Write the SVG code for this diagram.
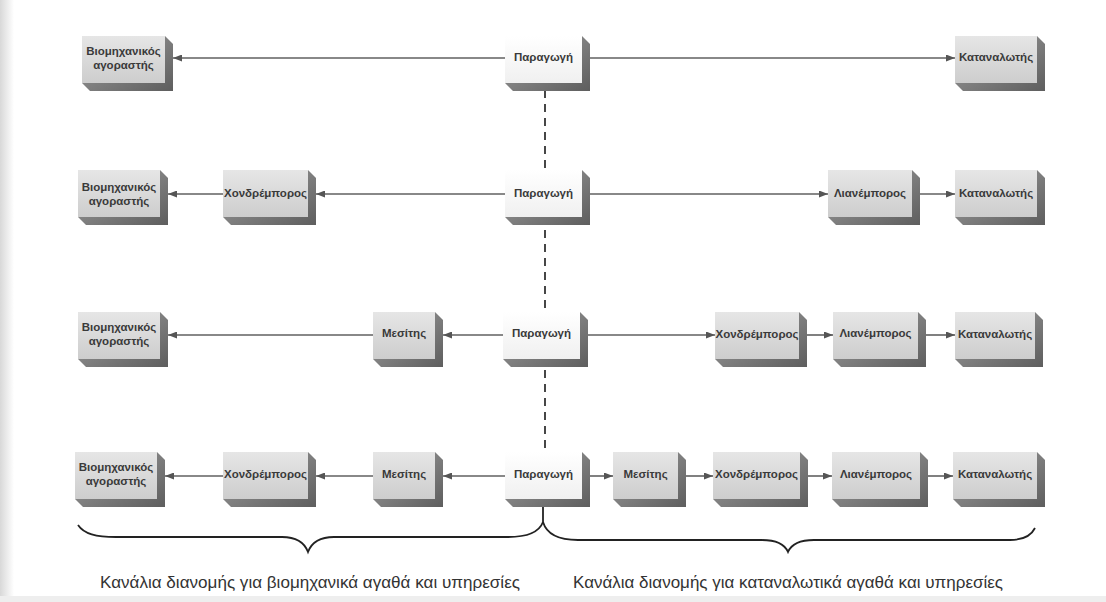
<svg xmlns="http://www.w3.org/2000/svg" width="1106" height="602" viewBox="0 0 1106 602">
<defs>
<linearGradient id="faceG" x1="0" y1="0" x2="0" y2="1">
<stop offset="0" stop-color="#e6e6e6"/>
<stop offset="1" stop-color="#cdcdcd"/>
</linearGradient>
<linearGradient id="faceW" x1="0" y1="0" x2="0" y2="1">
<stop offset="0" stop-color="#ffffff"/>
<stop offset="1" stop-color="#f0f0f0"/>
</linearGradient>
<linearGradient id="sideG" x1="0" y1="0" x2="1" y2="1">
<stop offset="0" stop-color="#a0a0a0"/>
<stop offset="1" stop-color="#5e5e5e"/>
</linearGradient>
<linearGradient id="edgeL" x1="0" y1="0" x2="1" y2="0">
<stop offset="0" stop-color="#d8d8d8"/>
<stop offset="1" stop-color="#ffffff"/>
</linearGradient>
<marker id="ah" markerWidth="9" markerHeight="7" refX="9" refY="3.5" orient="auto" markerUnits="userSpaceOnUse">
<path d="M0,0 L9,3.5 L0,7 z" fill="#555"/>
</marker>
<style>
.face{fill:url(#faceG);}
.faceP{fill:url(#faceW);}
.side{fill:url(#sideG);}
.lbl{font-family:"Liberation Sans",Arial,sans-serif;font-size:11.5px;font-weight:bold;fill:#3a3a3a;text-anchor:middle;dominant-baseline:central;}
.arr{stroke:#606060;stroke-width:1.6;fill:none;marker-end:url(#ah);}
.dash{stroke:#333;stroke-width:1.8;stroke-dasharray:8 6;fill:none;}
.brace{stroke:#222;stroke-width:1.8;fill:none;}
.cap{font-family:"Liberation Sans",Arial,sans-serif;font-size:16.5px;fill:#333;}
</style>
</defs>
<rect x="0" y="0" width="1106" height="602" fill="#ffffff"/>
<rect x="0" y="0" width="14" height="602" fill="url(#edgeL)"/>
<rect x="0" y="596" width="1106" height="6" fill="#eeeeee"/>

<line id="divider" class="dash" x1="545" y1="90" x2="545" y2="452"/>

<g id="connectors">
<!-- row 1 -->
<line class="arr" x1="505" y1="58" x2="173" y2="58"/>
<line class="arr" x1="590" y1="58" x2="955" y2="58"/>
<!-- row 2 -->
<line class="arr" x1="505" y1="194" x2="316" y2="194"/>
<line class="arr" x1="223" y1="194" x2="168" y2="194"/>
<line class="arr" x1="590" y1="194" x2="828" y2="194"/>
<line class="arr" x1="920" y1="194" x2="955" y2="194"/>
<!-- row 3 -->
<line class="arr" x1="503" y1="335" x2="443" y2="335"/>
<line class="arr" x1="373" y1="335" x2="168" y2="335"/>
<line class="arr" x1="588" y1="335" x2="715" y2="335"/>
<line class="arr" x1="807" y1="335" x2="833" y2="335"/>
<line class="arr" x1="926" y1="335" x2="955" y2="335"/>
<!-- row 4 -->
<line class="arr" x1="505" y1="476" x2="443" y2="476"/>
<line class="arr" x1="373" y1="476" x2="316" y2="476"/>
<line class="arr" x1="223" y1="476" x2="165" y2="476"/>
<line class="arr" x1="590" y1="476" x2="613" y2="476"/>
<line class="arr" x1="686" y1="476" x2="713" y2="476"/>
<line class="arr" x1="808" y1="476" x2="832" y2="476"/>
<line class="arr" x1="928" y1="476" x2="953" y2="476"/>
</g>

<!-- Row 1 -->
<g id="r1-viom"><polygon class="side" points="165,36 173,44 173,91 90,91 82,83 165,83"/><rect class="face" x="82" y="36" width="83" height="47"/><text class="lbl" x="123.5" y="51">Βιομηχανικός</text><text class="lbl" x="123.5" y="65">αγοραστής</text></g>
<g id="r1-para"><polygon class="side" points="582,36 590,44 590,91 513,91 505,83 582,83"/><rect class="faceP" x="505" y="36" width="77" height="47"/><text class="lbl" x="543.5" y="57">Παραγωγή</text></g>
<g id="r1-katan"><polygon class="side" points="1037,36 1045,44 1045,91 963,91 955,83 1037,83"/><rect class="face" x="955" y="36" width="82" height="47"/><text class="lbl" x="996" y="57">Καταναλωτής</text></g>

<!-- Row 2 -->
<g id="r2-viom"><polygon class="side" points="160,170 168,178 168,225 86,225 78,217 160,217"/><rect class="face" x="78" y="170" width="82" height="47"/><text class="lbl" x="119" y="187">Βιομηχανικός</text><text class="lbl" x="119" y="201">αγοραστής</text></g>
<g id="r2-xond"><polygon class="side" points="308,170 316,178 316,225 231,225 223,217 308,217"/><rect class="face" x="223" y="170" width="85" height="47"/><text class="lbl" x="265.5" y="193">Χονδρέμπορος</text></g>
<g id="r2-para"><polygon class="side" points="582,170 590,178 590,225 513,225 505,217 582,217"/><rect class="faceP" x="505" y="170" width="77" height="47"/><text class="lbl" x="543.5" y="193">Παραγωγή</text></g>
<g id="r2-lian"><polygon class="side" points="912,170 920,178 920,225 836,225 828,217 912,217"/><rect class="face" x="828" y="170" width="84" height="47"/><text class="lbl" x="870" y="193">Λιανέμπορος</text></g>
<g id="r2-katan"><polygon class="side" points="1037,170 1045,178 1045,225 963,225 955,217 1037,217"/><rect class="face" x="955" y="170" width="82" height="47"/><text class="lbl" x="996" y="193">Καταναλωτής</text></g>

<!-- Row 3 -->
<g id="r3-viom"><polygon class="side" points="160,312 168,320 168,367 86,367 78,359 160,359"/><rect class="face" x="78" y="312" width="82" height="47"/><text class="lbl" x="119" y="327">Βιομηχανικός</text><text class="lbl" x="119" y="341">αγοραστής</text></g>
<g id="r3-mes"><polygon class="side" points="435,312 443,320 443,367 381,367 373,359 435,359"/><rect class="face" x="373" y="312" width="62" height="47"/><text class="lbl" x="404" y="333">Μεσίτης</text></g>
<g id="r3-para"><polygon class="side" points="580,312 588,320 588,367 511,367 503,359 580,359"/><rect class="faceP" x="503" y="312" width="77" height="47"/><text class="lbl" x="541.5" y="333">Παραγωγή</text></g>
<g id="r3-xond"><polygon class="side" points="799,312 807,320 807,367 723,367 715,359 799,359"/><rect class="face" x="715" y="312" width="84" height="47"/><text class="lbl" x="757" y="334">Χονδρέμπορος</text></g>
<g id="r3-lian"><polygon class="side" points="918,312 926,320 926,367 841,367 833,359 918,359"/><rect class="face" x="833" y="312" width="85" height="47"/><text class="lbl" x="875.5" y="333">Λιανέμπορος</text></g>
<g id="r3-katan"><polygon class="side" points="1035,312 1043,320 1043,367 963,367 955,359 1035,359"/><rect class="face" x="955" y="312" width="80" height="47"/><text class="lbl" x="995" y="334">Καταναλωτής</text></g>

<!-- Row 4 -->
<g id="r4-viom"><polygon class="side" points="157,452 165,460 165,507 83,507 75,499 157,499"/><rect class="face" x="75" y="452" width="82" height="47"/><text class="lbl" x="116" y="467">Βιομηχανικός</text><text class="lbl" x="116" y="481">αγοραστής</text></g>
<g id="r4-xond"><polygon class="side" points="308,452 316,460 316,507 231,507 223,499 308,499"/><rect class="face" x="223" y="452" width="85" height="47"/><text class="lbl" x="265.5" y="474">Χονδρέμπορος</text></g>
<g id="r4-mes"><polygon class="side" points="435,452 443,460 443,507 381,507 373,499 435,499"/><rect class="face" x="373" y="452" width="62" height="47"/><text class="lbl" x="404" y="474">Μεσίτης</text></g>
<g id="r4-para"><polygon class="side" points="582,452 590,460 590,507 513,507 505,499 582,499"/><rect class="faceP" x="505" y="452" width="77" height="47"/><text class="lbl" x="543.5" y="474">Παραγωγή</text></g>
<g id="r4-mes2"><polygon class="side" points="678,452 686,460 686,507 621,507 613,499 678,499"/><rect class="face" x="613" y="452" width="65" height="47"/><text class="lbl" x="645.5" y="474">Μεσίτης</text></g>
<g id="r4-xond2"><polygon class="side" points="800,452 808,460 808,507 721,507 713,499 800,499"/><rect class="face" x="713" y="452" width="87" height="47"/><text class="lbl" x="756.5" y="474">Χονδρέμπορος</text></g>
<g id="r4-lian"><polygon class="side" points="920,452 928,460 928,507 840,507 832,499 920,499"/><rect class="face" x="832" y="452" width="88" height="47"/><text class="lbl" x="876" y="474">Λιανέμπορος</text></g>
<g id="r4-katan"><polygon class="side" points="1037,452 1045,460 1045,507 961,507 953,499 1037,499"/><rect class="face" x="953" y="452" width="84" height="47"/><text class="lbl" x="995" y="474">Καταναλωτής</text></g>

<g id="braces">
<line class="brace" x1="543" y1="507" x2="543" y2="522"/>
<path class="brace" d="M78,525 C84,534 96,537 116,537 L282,537 C298,537 305,544 308,552 C311,544 318,537 334,537 L508,537 C530,537 540,530 543,522"/>
<path class="brace" d="M543,522 C546,532 556,540 578,540 L762,540 C778,540 785,545 788,552 C791,545 798,540 814,540 L1010,540 C1024,540 1031,536 1035,528"/>
</g>

<text class="cap" x="100" y="588" textLength="420" lengthAdjust="spacingAndGlyphs">Κανάλια διανομής για βιομηχανικά αγαθά και υπηρεσίες</text>
<text class="cap" x="573" y="588" textLength="430" lengthAdjust="spacingAndGlyphs">Κανάλια διανομής για καταναλωτικά αγαθά και υπηρεσίες</text>
</svg>
